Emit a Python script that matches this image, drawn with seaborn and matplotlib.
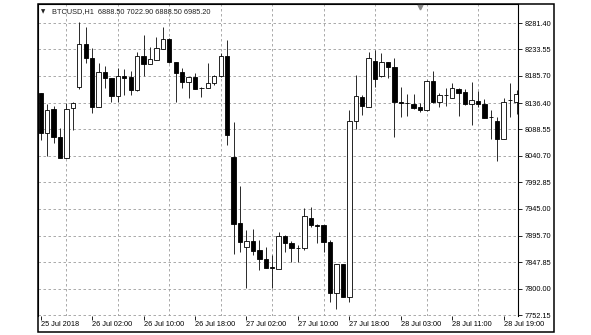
import numpy as np
import pandas as pd
import matplotlib
matplotlib.use("Agg")
import matplotlib.pyplot as plt
import matplotlib.transforms as mtransforms
from matplotlib.patches import Rectangle
import seaborn as sns

# ---- data (hourly BTCUSD candles) ----
opens = [8154.0, 8081.5, 8126.1, 8075.3, 8037.3, 8126.8, 8166.0, 8243.4, 8217.4, 8129.7,
         8193.1, 8181.2, 8149.6, 8185.4, 8183.0, 8160.0, 8221.6, 8207.1, 8214.4, 8233.7,
         8252.4, 8211.3, 8192.1, 8175.0, 8183.0, 8163.6, 8163.1, 8172.1, 8185.9, 8222.1,
         8039.1, 7918.4, 7876.0, 7886.8, 7870.0, 7853.1, 7838.6, 7835.5, 7895.9, 7882.1,
         7874.1, 7873.1, 7927.4, 7914.7, 7914.7, 7885.0, 7791.5, 7844.1, 7784.2, 8104.3,
         8147.8, 8129.7, 8213.1, 8185.4, 8210.2, 8202.2, 8137.7, 8136.4, 8134.1, 8128.6,
         8123.7, 8176.3, 8138.8, 8151.5, 8146.0, 8162.3, 8156.4, 8134.6, 8140.6, 8134.6,
         8111.0, 8104.3, 8070.6, 8141.9, 8138.8]
highs = [8155.1, 8134.6, 8131.0, 8090.6, 8135.9, 8138.2, 8283.8, 8274.7, 8235.6, 8208.4,
         8204.0, 8181.7, 8199.3, 8197.5, 8194.4, 8229.4, 8259.7, 8238.5, 8256.6, 8273.6,
         8253.7, 8211.3, 8200.4, 8183.0, 8191.3, 8164.9, 8209.5, 8187.2, 8226.5, 8250.6,
         8102.5, 7986.5, 7906.2, 7907.5, 7888.1, 7876.0, 7860.9, 7903.1, 7897.2, 7886.3,
         7879.0, 7946.6, 7948.5, 7917.6, 7915.3, 7888.1, 7844.1, 7844.6, 8123.7, 8187.2,
         8150.9, 8229.4, 8232.5, 8226.5, 8211.3, 8217.4, 8164.9, 8152.2, 8152.2, 8135.9,
         8178.1, 8194.4, 8154.0, 8163.1, 8172.1, 8163.1, 8161.2, 8175.0, 8158.7, 8143.1,
         8123.7, 8111.6, 8144.9, 8172.1, 8160.0]
lows = [8069.4, 8040.4, 8064.5, 8036.2, 8036.2, 8087.5, 8161.2, 8208.4, 8117.7, 8129.7,
        8164.1, 8138.8, 8138.8, 8150.9, 8150.9, 8158.7, 8185.4, 8207.1, 8214.4, 8233.7,
        8208.4, 8137.7, 8163.1, 8146.0, 8161.8, 8147.8, 8163.1, 8169.0, 8184.1, 8060.3,
        7862.2, 7865.8, 7801.6, 7860.9, 7833.7, 7837.9, 7800.6, 7835.5, 7866.9, 7848.8,
        7848.8, 7870.0, 7912.2, 7882.1, 7865.8, 7776.3, 7763.0, 7784.2, 7776.3, 8088.7,
        8114.7, 8129.7, 8166.0, 8184.1, 8181.2, 8075.3, 8111.6, 8112.9, 8125.0, 8120.6,
        8121.9, 8137.0, 8129.7, 8131.0, 8146.0, 8112.9, 8132.8, 8096.5, 8129.7, 8108.7,
        8070.6, 8031.8, 8070.6, 8111.6, 8115.9]
closes = [8081.5, 8123.7, 8075.3, 8037.3, 8125.0, 8137.0, 8242.8, 8217.4, 8129.7, 8193.1,
          8181.2, 8149.6, 8185.4, 8182.3, 8160.0, 8221.6, 8207.1, 8216.2, 8235.6, 8252.4,
          8210.2, 8191.3, 8175.0, 8183.0, 8161.8, 8163.1, 8172.1, 8185.9, 8221.6, 8078.4,
          7917.1, 7885.0, 7886.8, 7868.7, 7853.1, 7837.9, 7837.9, 7895.9, 7882.1, 7873.1,
          7873.6, 7932.1, 7915.3, 7914.0, 7885.0, 7791.5, 7844.1, 7784.2, 8104.3, 8149.1,
          8131.0, 8217.4, 8179.9, 8210.2, 8202.2, 8137.7, 8136.4, 8135.9, 8127.9, 8123.7,
          8176.3, 8138.8, 8150.9, 8151.5, 8163.1, 8154.0, 8134.6, 8141.9, 8134.6, 8109.8,
          8110.5, 8070.6, 8137.7, 8141.9, 8152.2]

y_ticks = [8281.40, 8233.55, 8185.70, 8136.40, 8088.55, 8040.70,
           7992.85, 7945.00, 7895.70, 7847.85, 7800.00, 7752.15]
y_tick_labels = [f"{v:.2f}" for v in y_ticks]
x_tick_bars = [0, 8, 16, 24, 32, 40, 48, 56, 64, 72]
x_tick_labels = ["25 Jul 2018", "26 Jul 02:00", "26 Jul 10:00", "26 Jul 18:00",
                 "27 Jul 02:00", "27 Jul 10:00", "27 Jul 18:00", "28 Jul 03:00",
                 "28 Jul 11:00", "28 Jul 19:00"]
grid_bars = list(range(4, 73, 4))
title_symbol = "\u25bc"
title_text = "BTCUSD,H1  6888.50 7022.90 6888.50 6985.20"
separator_bar = 59

df = pd.DataFrame({"open": opens, "high": highs, "low": lows, "close": closes})
df["bar"] = np.arange(len(df))
df["up"] = df["close"] >= df["open"]

# ---- style ----
sns.set_theme(style="white")
plt.rcParams["font.family"] = ["Liberation Sans", "DejaVu Sans"]

W, H = 591, 335
fig = plt.figure(figsize=(W / 100, H / 100), dpi=100)
fig.patch.set_facecolor("white")
ax = fig.add_axes([38 / W, 19.5 / H, 480 / W, 311.5 / H])
ax.set_facecolor("white")

# wicks
ax.vlines(df["bar"], df["low"], df["high"], color="#1a1a1a", linewidth=0.65, zorder=2)
# bodies
body_bottom = np.minimum(df["open"], df["close"])
body_height = np.maximum(np.abs(df["close"] - df["open"]), 0.01)
face = np.where(df["up"], "white", "black")
ax.bar(df["bar"], body_height, bottom=body_bottom, width=0.68,
       color=face, edgecolor="black", linewidth=0.6, zorder=3)

ax.set_xlim(-0.42, 74.23)
ax.set_ylim(7751.25, 8315.85)

# ticks and grid
ax.yaxis.tick_right()
ax.set_yticks(y_ticks)
ax.set_yticklabels(y_tick_labels)
ax.set_xticks(x_tick_bars)
ax.set_xticklabels(x_tick_labels)
ax.set_xticks(grid_bars, minor=True)
for lbl in ax.get_xticklabels():
    lbl.set_horizontalalignment("left")
ax.tick_params(axis="y", which="major", direction="out", length=3, width=0.6,
               pad=1.5, labelsize=5.3, colors="black", right=True, left=False)
ax.tick_params(axis="x", which="major", direction="out", length=3, width=0.6,
               pad=1.2, labelsize=5.3, colors="black", bottom=True)
ax.tick_params(axis="x", which="minor", length=0)

grid_kw = dict(color="#9c9c9c", linewidth=0.6, linestyle=(0, (3, 3)))
ax.grid(True, axis="y", which="major", **grid_kw)
ax.grid(True, axis="x", which="minor", **grid_kw)
ax.grid(False, axis="x", which="major")
ax.set_axisbelow(True)

for side in ["top", "left", "right"]:
    ax.spines[side].set_visible(True)
    ax.spines[side].set_color("black")
    ax.spines[side].set_linewidth(0.8)
ax.spines["bottom"].set_visible(False)

# outer chart window frame
fig.patches.append(Rectangle((38 / W, 3 / H), (554 - 38) / W, (331 - 3) / H,
                             transform=fig.transFigure, fill=False,
                             edgecolor="black", linewidth=1.1))

# header text
fig.text(41 / W, 1 - 12 / H, title_symbol, fontsize=4, va="center", ha="left",
         family=["DejaVu Sans"], color="#222222")
fig.text(51.5 / W, 1 - 12 / H, title_text, fontsize=5.3, va="center", ha="left",
         color="#222222")

# small period-separator marker at the top edge
trans = mtransforms.blended_transform_factory(ax.transData, ax.transAxes)
ax.plot([separator_bar], [0.99], marker="v", markersize=3.5, color="#8a8a8a",
        transform=trans, clip_on=False, zorder=5)

fig.savefig("out.png", dpi=100, facecolor="white")
